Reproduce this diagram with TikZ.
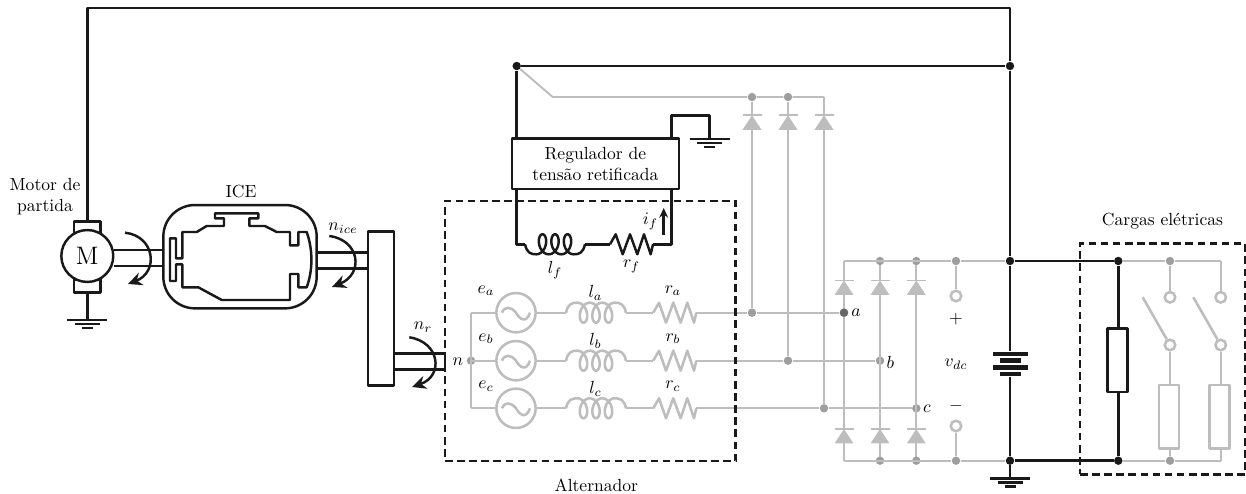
\documentclass[tikz,border=0pt]{standalone}
\usepackage{xcolor}
\usepackage{amsmath}
\usetikzlibrary{positioning,arrows.meta}
\definecolor{elgrey}{gray}{0.74}
\definecolor{eldot}{gray}{0.62}
\tikzset{
  wireblk/.style={draw=black!90, line width=1.4pt, line join=round},
  wiregry/.style={draw=elgrey, line width=1.1pt},
  coilgry/.style={draw=elgrey, line width=1.45pt, line join=round},
  dotblk/.style={circle, fill=black!90, minimum size=4.8pt, inner sep=0pt},
  dotgry/.style={circle, fill=eldot, minimum size=4.8pt, inner sep=0pt},
  termgry/.style={circle, draw=elgrey, line width=1.45pt, fill=white, minimum size=6pt, inner sep=0pt},
  srcnode/.style={circle, draw=elgrey, line width=1.45pt, minimum size=22.4pt, inner sep=0pt},
  boxblk/.style={rectangle, wireblk, fill=white, inner sep=0pt},
  loadblk/.style={boxblk, minimum width=11.4pt, minimum height=36.3pt},
  loadgry/.style={rectangle, coilgry, fill=white, inner sep=0pt, minimum width=11.4pt, minimum height=36pt},
  batlong/.style={rectangle, fill=black!90, inner sep=0pt, minimum width=20.3pt, minimum height=2.7pt},
  batshort/.style={rectangle, fill=black!90, inner sep=0pt, minimum width=11.8pt, minimum height=2.7pt},
  dashbox/.style={rectangle, draw=black!90, line width=1.45pt, dash pattern=on 4.3pt off 2.6pt},
  rotarrow/.style={wireblk, -{Stealth[length=8pt,width=7.5pt]}},
  coilpic/.pic={
    \draw[pic actions] (0,0) .. controls (2,-9) and (6,-10) .. (11.25,-10)
      -- plot[domain=-540:540, samples=109, smooth] ({30+12.5*\x/360-6.5*sin(\x)},{10*cos(\x)})
      .. controls (54,-10) and (58,-9) .. (60,0);
    \coordinate (-a) at (0,0);
    \coordinate (-b) at (60,0);
  },
  respic/.pic={
    \draw[pic actions] (0,0) -- (5.7,-10) -- (12.7,10) -- (20,-10) -- (27.3,10) -- (34,-10) -- (40.7,10) -- (43,0);
    \coordinate (-a) at (0,0);
    \coordinate (-b) at (43,0);
  },
  sinepic/.pic={
    \draw[pic actions] (-14,0) .. controls (-11,-7) and (-5,-6) .. (0,0) .. controls (4,7) and (10,11) .. (14,0);
  },
  diodepic/.pic={
    \path[fill=elgrey] (0,0) -- (9.5,14.5) -- (-9.5,14.5) -- cycle;
    \draw[wiregry] (-9.5,0) -- (9.5,0);
    \coordinate (-an) at (0,0);
    \coordinate (-ca) at (0,14.5);
  },
  groundpic/.pic={
    \draw[wireblk] (-20,0) -- (20,0);
    \draw[wireblk] (-12.5,4.2) -- (12.5,4.2);
    \draw[wireblk] (-5.5,8) -- (5.5,8);
    \coordinate (-t) at (0,0);
  }
}

\begin{document}
\begin{tikzpicture}[x=0.57pt, y=-0.57pt]
    \useasboundingbox (0,0) rectangle (1246,494);

    % Alternator phases
    \coordinate (ntop) at (471,312.7);
    \coordinate (nbot) at (471,408.3);
    \node[dotgry] (nn) at (471,360.7) {};
    \draw[wiregry] (ntop) -- (nbot);
    \node (lbn) at (458,361.5) {\(n\)};
    \foreach \ph/\py/\qx/\ux in {a/312.7/844/752, b/360.7/880/788, c/408.3/916.3/824} {
        \coordinate (s\ph) at (471,\py);
        \node[srcnode] (e\ph) at (516,\py) {};
        \pic[coilgry] at (e\ph) {sinepic};
        \pic[coilgry] (l\ph) at (566,\py) {coilpic};
        \pic[coilgry] (r\ph) at (653.3,\py) {respic};
        \node[dotgry] (d\ph) at (\ux,\py) {};
        \node[dotgry] (q\ph) at (\qx,\py) {};
        \draw[wiregry] (s\ph) -- (e\ph.west);
        \draw[wiregry] (e\ph.east) -- (l\ph-a);
        \draw[wiregry] (l\ph-b) -- (r\ph-a);
        \draw[wiregry] (r\ph-b) -- (d\ph) -- (q\ph);
        \node (le\ph) at (486,\py-22) {\(e_\ph\)};
        \node (ll\ph) at (595.5,\py-19.5) {\(l_\ph\)};
        \node (lr\ph) at (673,\py-22) {\(r_\ph\)};
        % Rectified bridge
        \coordinate (rt\ph) at (\qx,261);
        \coordinate (rb\ph) at (\qx,460.7);
        \pic (du\ph) at (\qx,280.5) {diodepic};
        \pic (dl\ph) at (\qx,429) {diodepic};
        \draw[wiregry] (rt\ph) -- (du\ph-an);
        \draw[wiregry] (du\ph-ca) -- (dl\ph-an);
        \draw[wiregry] (dl\ph-ca) -- (rb\ph);
    }
    \node[dotgry] (rtb2) at (880,261) {};
    \node[dotgry] (rtc2) at (916.3,261) {};
    \node[dotgry] (rbb2) at (880,460.7) {};
    \node[dotgry] (rbc2) at (916.3,460.7) {};
    \node[circle, fill=black!60, minimum size=4.8pt, inner sep=0pt] (qa2) at (844,312.7) {};
    \node (lba) at (856,313) {\(a\)};
    \node (lbb) at (890.5,362) {\(b\)};
    \node (lbc) at (927,409) {\(c\)};

    % Rectifier towards the regulator
    \node[dotblk] (jreg) at (516.7,66) {};
    \coordinate (bend) at (552.7,97);
    \coordinate (cor3) at (824,97);
    \node[dotgry] (up1) at (752,97) {};
    \node[dotgry] (up2) at (788,97) {};
    \draw[wiregry] (jreg) -- (bend) -- (up1) -- (up2) -- (cor3);
    \pic (dr1) at (752,115.3) {diodepic};
    \pic (dr2) at (788,115.3) {diodepic};
    \pic (dr3) at (824,115.3) {diodepic};
    \draw[wiregry] (up1) -- (dr1-an);
    \draw[wiregry] (up2) -- (dr2-an);
    \draw[wiregry] (cor3) -- (dr3-an);
    \draw[wiregry] (dr1-ca) -- (da);
    \draw[wiregry] (dr2-ca) -- (db);
    \draw[wiregry] (dr3-ca) -- (dc);

    % DC bus
    \node[dotblk] (jbat) at (1010,66) {};
    \node[dotblk] (jtop) at (1010,261) {};
    \node[dotblk] (jbot) at (1010,460.7) {};
    \node[dotgry] (vtop) at (956,261) {};
    \node[dotgry] (vbot) at (956,460.7) {};
    \node[termgry] (tp) at (956,296) {};
    \node[termgry] (tn) at (956,426) {};
    \draw[wiregry] (rta) -- (vtop) -- (jtop);
    \draw[wiregry] (rba) -- (vbot) -- (jbot);
    \draw[coilgry] (vtop) -- (tp);
    \draw[coilgry] (tn) -- (vbot);
    \node (lbp) at (956,319.5) {\(+\)};
    \node (lbv) at (956,364) {\(v_{dc}\)};
    \node (lbm) at (956,406.5) {\(-\)};

    % Battery
    \node[batlong] (bat1) at (1010.5,354) {};
    \node[batshort] (bat2) at (1010.5,360.7) {};
    \node[batlong] (bat3) at (1010.5,367.4) {};
    \node[batshort] (bat4) at (1010.5,374) {};
    \draw[wireblk] (jbat) -- (jtop) -- (bat1.north -| jtop);
    \draw[wireblk] (bat4.south -| jbot) -- (jbot);
    \pic (gbat) at (1010,478.3) {groundpic};
    \draw[wireblk] (jbot) -- (gbat-t);

    % Loads
    \node[dotblk] (jlt) at (1118.3,261) {};
    \node[dotblk] (jlb) at (1118.3,460.7) {};
    \node[dotgry] (lt1) at (1170,261) {};
    \node[dotgry] (lb1) at (1170,460.7) {};
    \coordinate (lt2) at (1220.7,261);
    \coordinate (lb2) at (1220.7,460.7);
    \draw[wiregry] (jlt) -- (lt1) -- (lt2);
    \draw[wiregry] (jlb) -- (lb1) -- (lb2);
    \draw[wireblk] (jtop) -- (jlt);
    \draw[wireblk] (jbot) -- (jlb);
    \node[loadblk] (load0) at (1117.5,360.2) {};
    \draw[wireblk] (jlt) -- (load0.north -| jlt);
    \draw[wireblk] (load0.south -| jlb) -- (jlb);
    \foreach \sw/\sx/\bx in {1/1170/1142.7, 2/1220.7/1193.3} {
        \node[termgry] (kt\sw) at (\sx,297.3) {};
        \node[termgry] (kb\sw) at (\sx,345) {};
        \coordinate (bl\sw) at (\bx,297.3);
        \node[loadgry] (load\sw) at (\sx-1,416.7) {};
        \draw[wiregry] (lt\sw) -- (kt\sw);
        \draw[wiregry] (kb\sw) -- (load\sw.north -| kb\sw);
        \draw[wiregry] (load\sw.south -| lb\sw) -- (lb\sw);
        \draw[coilgry] (bl\sw) -- (kb\sw);
    }

    % Regulator and field winding
    \node[boxblk, minimum width=95pt, minimum height=28.9pt, align=center] (reg) at (595.4,163.7) {Regulador de\\tens\~ao retificada};
    \coordinate (rgnd) at (671.7,138.3);
    \coordinate (rgup) at (671.7,115.7);
    \coordinate (gnup) at (709.7,115.7);
    \pic (greg) at (709.7,139) {groundpic};
    \draw[wireblk] (rgnd) -- (rgup) -- (gnup) -- (greg-t);
    \draw[wireblk] (jreg) -- (jbat);
    \draw[wireblk] (jreg) -- (jreg |- reg.north);
    \coordinate (fl) at (516.7,244.3);
    \coordinate (fr) at (671.7,244.3);
    \pic[wireblk, yscale=-1] (lf) at (525,244.3) {coilpic};
    \pic[wireblk] (rf) at (610,244.3) {respic};
    \draw[wireblk] (jreg |- reg.south) -- (fl) -- (lf-a);
    \draw[wireblk] (lf-b) -- (rf-a);
    \draw[wireblk] (rf-b) -- (fr) -- (fr |- reg.south);
    \coordinate (ifa) at (663.7,235);
    \coordinate (ifb) at (663.7,208);
    \draw[wireblk, -{Stealth[length=5.5pt,width=5pt]}] (ifa) -- (ifb);
    \node (lbif) at (650.5,221.5) {\(i_f\)};
    \node (lblf) at (555,270) {\(l_f\)};
    \node (lbrf) at (631.5,266.5) {\(r_f\)};

    % Dashed frames
    \node[dashbox, minimum width=165.7pt, minimum height=148.2pt] (altbox) at (590.4,331) {};
    \node[below=5.7pt of altbox, xshift=3.4pt] (lbalt) {Alternador};
    \node[dashbox, minimum width=94pt, minimum height=131.7pt] (carbox) at (1162.5,358.8) {};
    \node[above=3.6pt of carbox] (lbcar) {Cargas el\'etricas};

    % Starter motor
    \node[boxblk, minimum width=14.9pt, minimum height=7.4pt] (brt) at (87.3,228) {};
    \node[boxblk, minimum width=14.9pt, minimum height=7.4pt] (brb) at (87.3,286) {};
    \node[boxblk, circle, minimum size=29.6pt, font=\Large] (mot) at (87.3,256) {M};
    \node[align=center] (lbmot) at (45,197) {Motor de\\partida};
    \coordinate (cortl) at (87.3,8);
    \coordinate (cortr) at (1010,8);
    \draw[wireblk] (brt.north) -- (cortl) -- (cortr) -- (jbat);
    \pic (gmot) at (87.3,320) {groundpic};
    \draw[wireblk] (brb.south) -- (gmot-t);

    % Engine
    \node[boxblk, rounded corners=18pt, minimum width=87.4pt, minimum height=58.9pt] (ice) at (240,256.7) {};
    \node (lbice) at (241,192) {ICE};
    \draw[wireblk] (182.3,258.3) -- (182.3,232) -- (196.7,232) -- (206.7,226) -- (224,226) -- (224,218.3) -- (215,218.3) -- (215,213.3)
        -- (258.3,213.3) -- (258.3,218.3) -- (249.3,218.3) -- (249.3,226) -- (265,226) -- (276.7,232) -- (290,232) -- (290,245.3)
        -- (298.3,245.3) -- (298.3,232) -- (306.7,232) .. controls (313,250) and (313,270) .. (306.7,287.3) -- (298.3,287.3)
        -- (298.3,274) -- (290,274) -- (290,300) -- (221.7,300) -- (198.3,287.3) -- (182.3,287.3) -- (182.3,264.3) -- (176,264.3)
        -- (176,281) -- (170,281) -- (170,238.3) -- (176,238.3) -- (176,258.3) -- cycle;

    % Shafts and belt
    \node[boxblk, minimum width=14.8pt, minimum height=87.8pt] (belt) at (381,308.7) {};
    \draw[wireblk] (mot.east |- 0,250) -- (ice.west |- 0,250);
    \draw[wireblk] (mot.east |- 0,266) -- (ice.west |- 0,266);
    \draw[wireblk] (ice.east |- 0,252.5) -- (belt.west |- 0,252.5);
    \draw[wireblk] (ice.east |- 0,268.7) -- (belt.west |- 0,268.7);
    \coordinate (sha) at (445,353.3);
    \coordinate (shb) at (445,369.3);
    \draw[wireblk] (belt.east |- sha) -- (sha) -- (shb) -- (belt.east |- shb);

    % Rotation arrows
    \coordinate (rma) at (125,232.7);
    \coordinate (rmb) at (128,284);
    \coordinate (ria) at (329.3,236);
    \coordinate (rib) at (332,287);
    \coordinate (rra) at (409.3,337.3);
    \coordinate (rrb) at (412,387);
    \draw[rotarrow] (rma) .. controls (155,236) and (159,272) .. (rmb);
    \draw[rotarrow] (ria) .. controls (360,240) and (364,274) .. (rib);
    \draw[rotarrow] (rra) .. controls (440,342) and (444,376) .. (rrb);
    \node (lbice2) at (343,228) {\(n_{ice}\)};
    \node (lbnr) at (423,327) {\(n_r\)};
\end{tikzpicture}
\end{document}
